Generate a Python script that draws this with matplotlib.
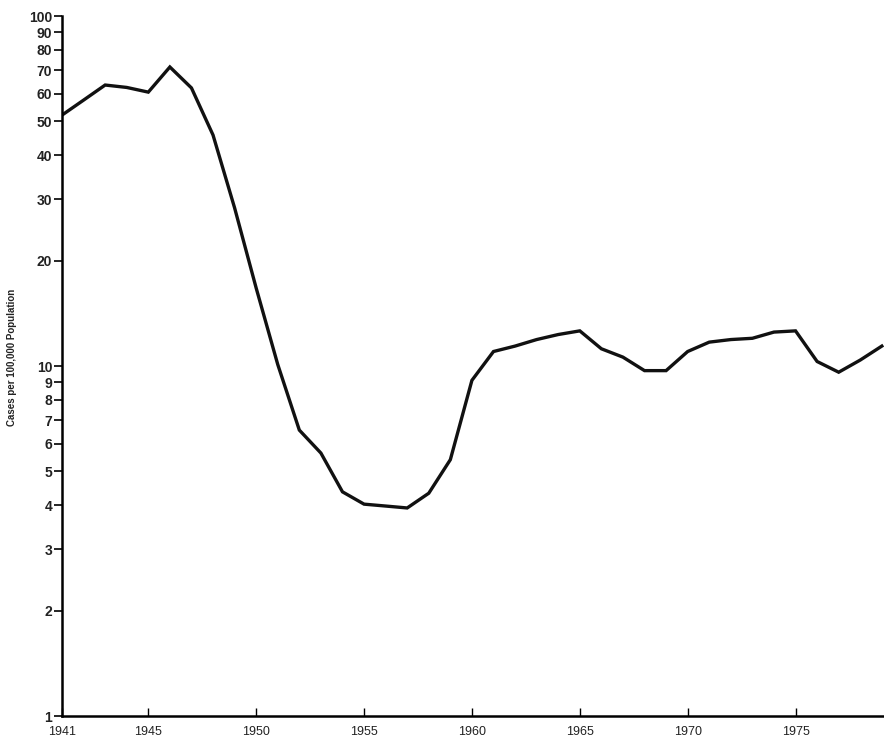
import matplotlib.pyplot as plt
from matplotlib.ticker import FixedLocator, NullLocator

years = list(range(1941, 1980))
cases = [52.1, 57.5, 63.5, 62.5, 60.6, 71.5, 62.3, 45.7, 28.3, 16.7,
         10.1, 6.56, 5.64, 4.37, 4.03, 3.98, 3.93, 4.33, 5.4, 9.1,
         11.0, 11.4, 11.9, 12.3, 12.6, 11.2, 10.6, 9.7, 9.7, 11.0,
         11.7, 11.9, 12.0, 12.5, 12.6, 10.3, 9.6, 10.4, 11.4]

x_ticks = [1941, 1945, 1950, 1955, 1960, 1965, 1970, 1975]
y_ticks = [1, 2, 3, 4, 5, 6, 7, 8, 9, 10, 20, 30, 40, 50, 60, 70, 80, 90, 100]

plt.rcParams['font.family'] = ['Liberation Sans', 'DejaVu Sans']

fig = plt.figure(figsize=(8.84, 7.39), dpi=100)
ax = fig.add_axes([62 / 884, 23 / 739, 1 - 62 / 884, 700 / 739])

ax.plot(years, cases, color='#111111', linewidth=2.4, solid_joinstyle='miter')

ax.set_yscale('log')
ax.set_ylim(1, 100)
ax.set_xlim(1941, 1979.1)

ax.yaxis.set_major_locator(FixedLocator(y_ticks))
ax.yaxis.set_minor_locator(NullLocator())
ax.set_yticklabels([str(v) for v in y_ticks], fontsize=10, fontweight='bold', color='#222222')
ax.tick_params(axis='y', direction='out', length=6, width=1.2, pad=1)

ax.set_xticks(x_ticks)
ax.set_xticklabels([str(v) for v in x_ticks], fontsize=9, color='#222222')
ax.tick_params(axis='x', direction='in', length=6, width=1.0, pad=7)

for side in ['top', 'right']:
    ax.spines[side].set_visible(False)
ax.spines['left'].set_linewidth(1.8)
ax.spines['bottom'].set_linewidth(1.8)

fig.text(12 / 884, 1 - 357 / 739, 'Cases per 100,000 Population', rotation=90,
         fontsize=7, fontweight='bold', color='#222222', ha='center', va='center')

fig.savefig('out.png', dpi=100)
